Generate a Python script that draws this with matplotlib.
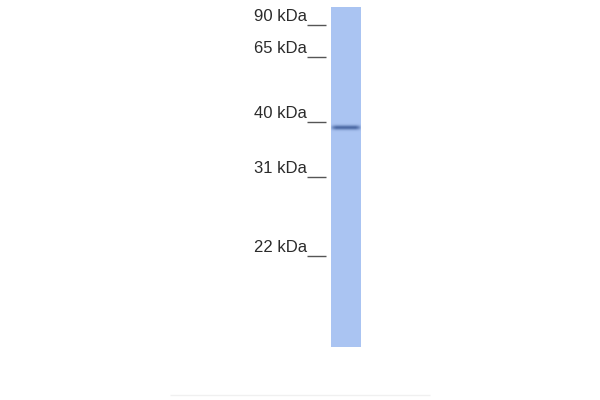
import matplotlib
matplotlib.use("Agg")
import matplotlib.pyplot as plt
import numpy as np

# marker ladder (label, y of the tick line in pixels)
marker_labels = ["90 kDa", "65 kDa", "40 kDa", "31 kDa", "22 kDa"]
marker_y = [25, 57, 122, 177, 256]

# lane extent and detected band (pixels)
lane_left, lane_right = 331, 361
lane_top, lane_bottom = 7, 347
band_y = 127
band_strength = 0.8


def lane_image():
    """Build the RGB image of the single blot lane."""
    rows = np.arange(lane_top, lane_bottom)
    cols = np.arange(lane_left, lane_right)
    base = np.array([0.67, 0.77, 0.95])
    dark = np.array([0.22, 0.34, 0.58])
    prof = np.exp(-((rows - band_y) / 2.3) ** 2) * band_strength
    xc = (cols - cols.mean()) / (cols.size / 2)
    edge = np.clip(1.15 - xc ** 4, 0, 1)
    w = prof[:, None] * edge[None, :]
    img = base[None, None, :] * (1 - w[..., None]) + dark * w[..., None]
    return img


def main():
    fig = plt.figure(figsize=(6, 4), dpi=100)
    ax = fig.add_axes([0, 0, 1, 1])
    ax.set_xlim(0, 600)
    ax.set_ylim(400, 0)
    ax.axis("off")

    ax.imshow(lane_image(), extent=(lane_left, lane_right,
                                    lane_bottom, lane_top),
              interpolation="bilinear", aspect="auto")

    for label, y in zip(marker_labels, marker_y):
        ax.text(307, y - 1, label, ha="right", va="bottom",
                fontsize=12, color="#2b2b2b", family="Liberation Sans")
        ax.hlines(y, 307, 326, color="#555555", linewidth=1.0)

    ax.hlines(395, 170, 430, color="#f0f0f0", linewidth=1.0)

    fig.savefig("out.png", dpi=100)


if __name__ == "__main__":
    main()
